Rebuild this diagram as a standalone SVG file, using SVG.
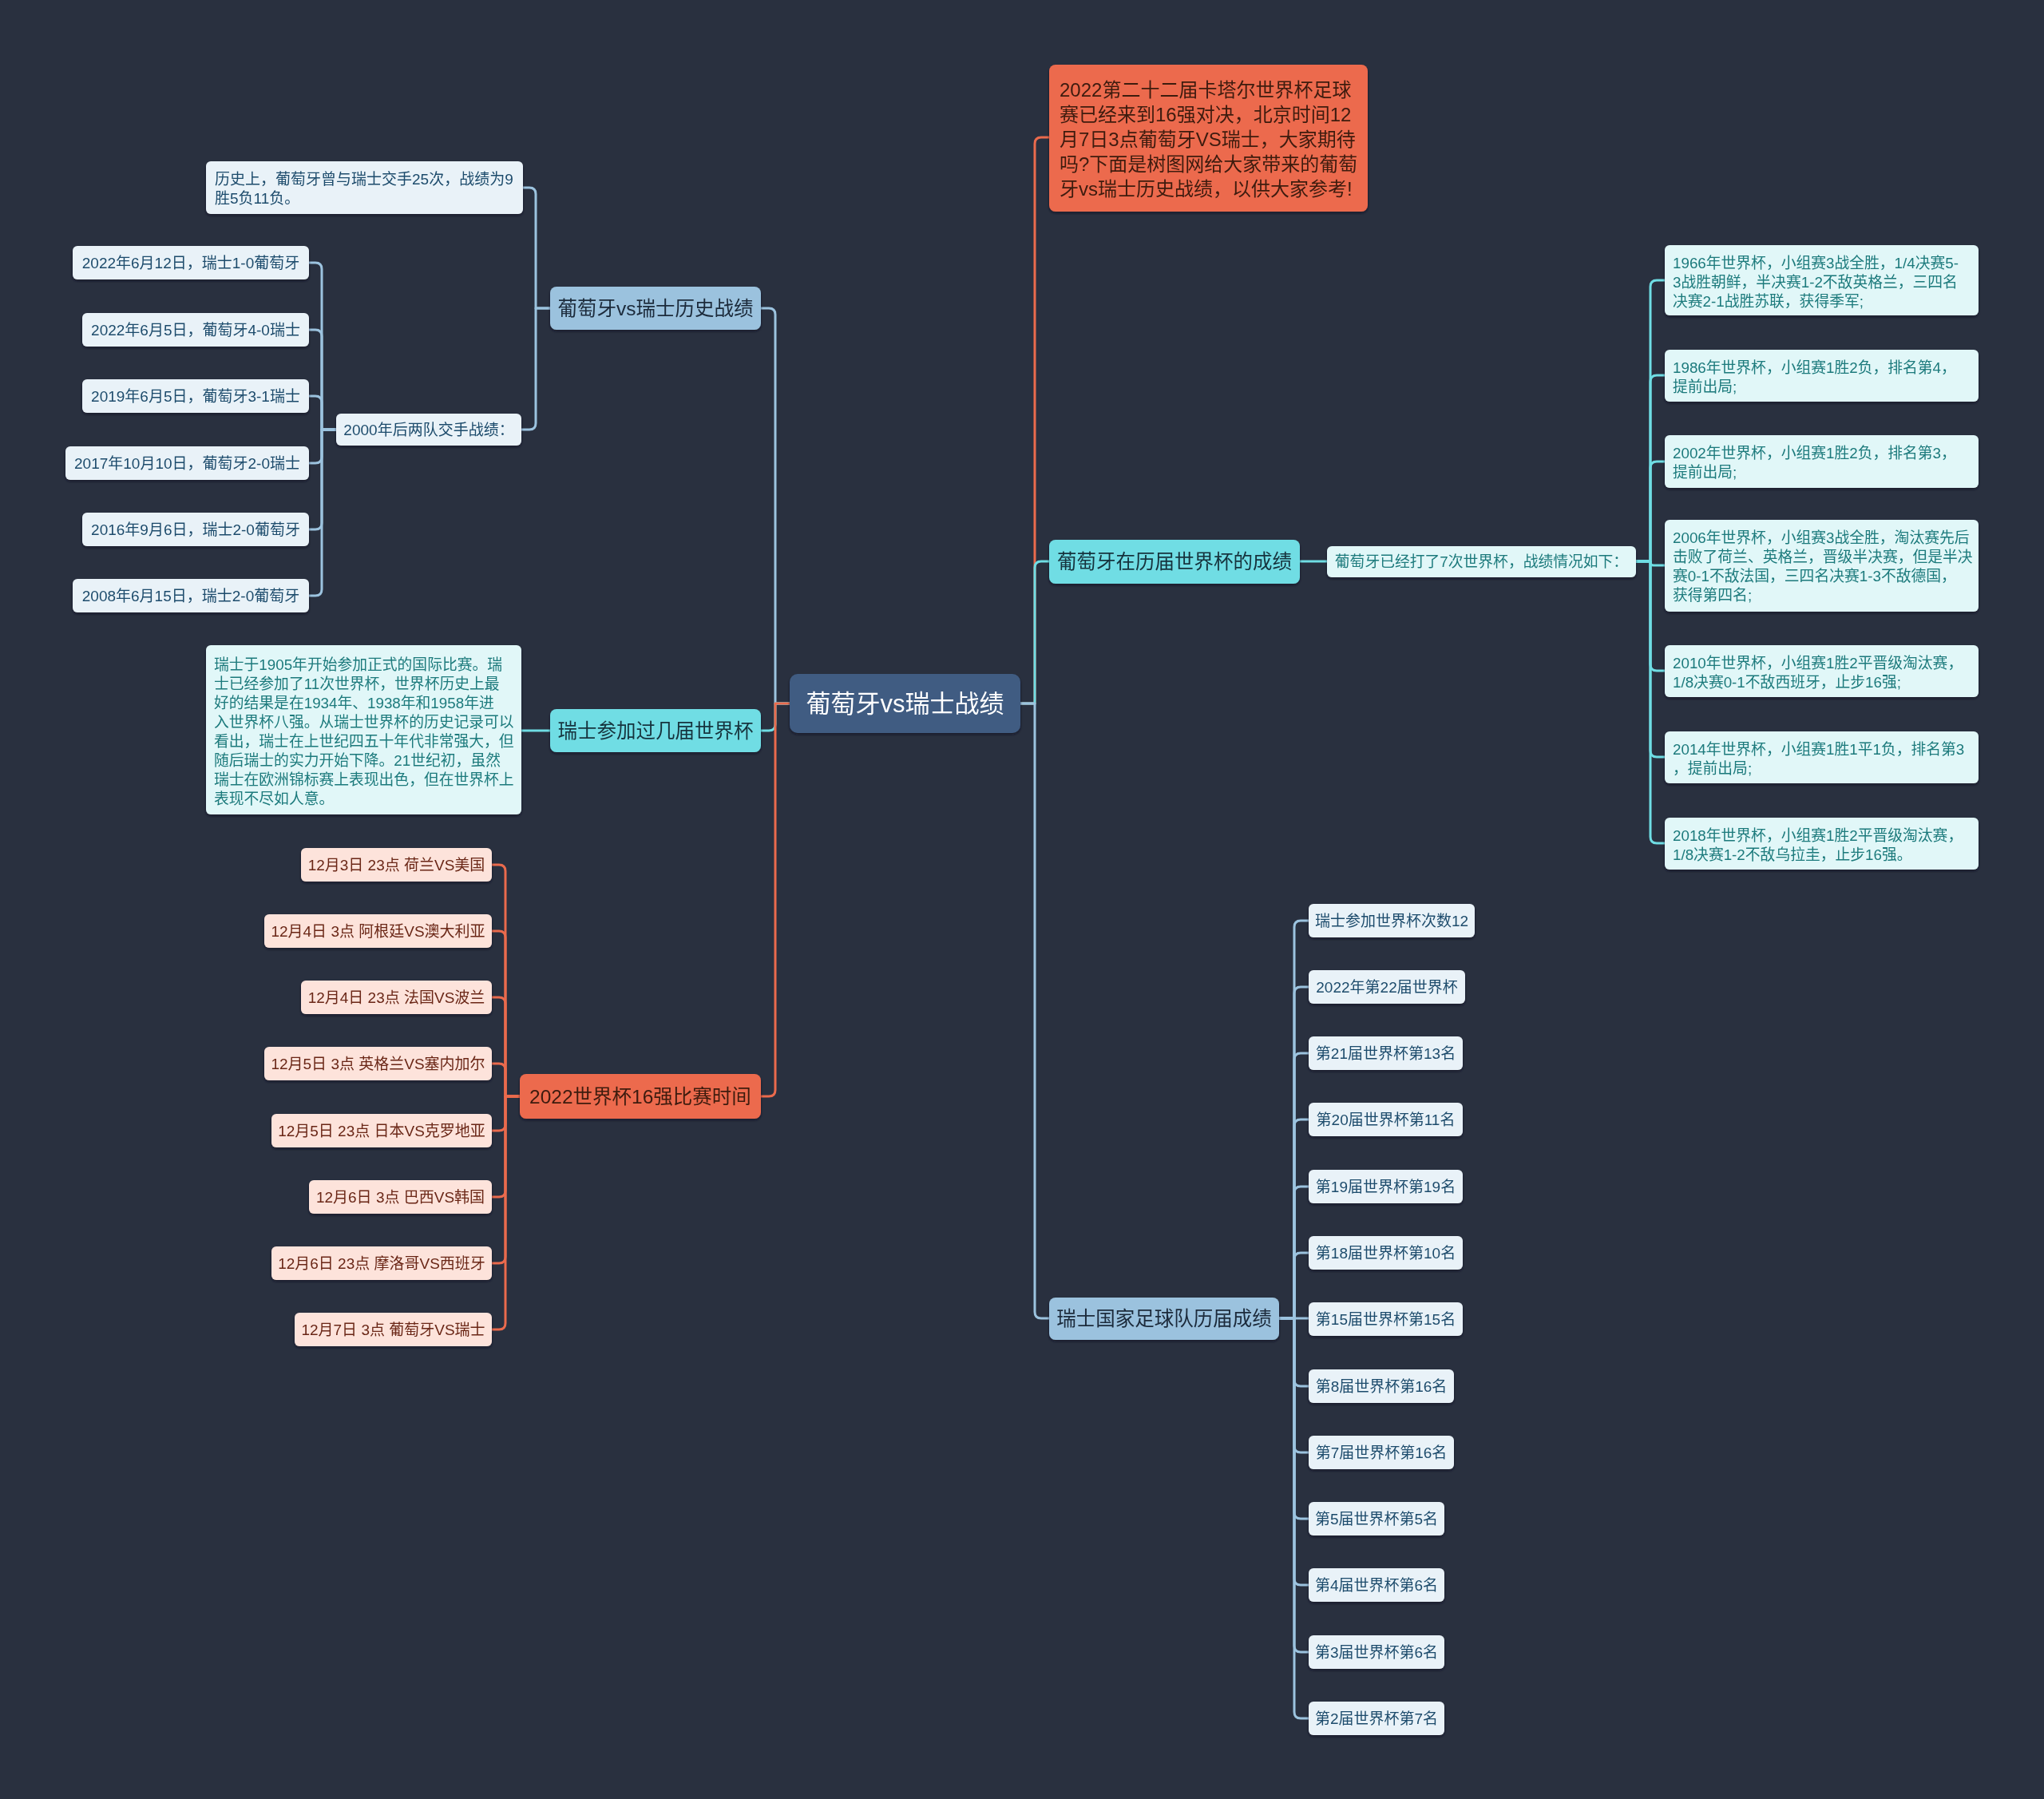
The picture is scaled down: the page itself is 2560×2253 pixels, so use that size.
<svg xmlns="http://www.w3.org/2000/svg" width="2560" height="2253" viewBox="0 0 2560 2253">
<defs>
<filter id="sh" x="-10%" y="-20%" width="120%" height="150%">
<feDropShadow dx="0" dy="2" stdDeviation="1.5" flood-color="#111722" flood-opacity="0.7"/>
</filter>
<style>
text{font-family:"Liberation Sans","Noto Sans CJK SC",sans-serif;dominant-baseline:central}
.c{stroke-width:3;fill:none;stroke-linejoin:round}
.cb{stroke:#9cc3df}.cc{stroke:#6fdde4}.co{stroke:#ea6a4d}
.n{filter:url(#sh)}
.fb{fill:#e9f2f8}.fc{fill:#e1f7f8}.fo{fill:#fde3db}
.tb{fill:#1e4c6c;font-size:19px}.tc{fill:#1c7a7c;font-size:18.8px}.to{fill:#6a2717;font-size:19px}
.B{font-size:24.5px}
.m{text-anchor:middle}
</style>
</defs>
<rect width="2560" height="2253" fill="#29303f"/>

<g id="connectors">
<path class="c co" d="M1278 881 H1296 V180 Q1296 172 1304 172 H1314"/>
<path class="c cc" d="M1278 881 H1296 V711 Q1296 703 1304 703 H1314"/>
<path class="c cb" d="M1278 881 H1296 V1643 Q1296 1651 1304 1651 H1314"/>
<path class="c cb" d="M989 881 H971 V394 Q971 386 963 386 H953"/>
<path class="c cc" d="M989 881 H971 V907 Q971 915 963 915 H953"/>
<path class="c co" d="M989 881 H971 V1365 Q971 1373 963 1373 H953"/>
<path class="c cb" d="M689 386 H671 V243 Q671 235 663 235 H655"/>
<path class="c cb" d="M689 386 H671 V530 Q671 538 663 538 H653"/>
<path class="c cb" d="M421 538 H403 V337 Q403 329 395 329 H387"/>
<path class="c cb" d="M421 538 H403 V421 Q403 413 395 413 H387"/>
<path class="c cb" d="M421 538 H403 V504 Q403 496 395 496 H387"/>
<path class="c cb" d="M421 538 H403 V572 Q403 580 395 580 H387"/>
<path class="c cb" d="M421 538 H403 V655 Q403 663 395 663 H387"/>
<path class="c cb" d="M421 538 H403 V738 Q403 746 395 746 H387"/>
<path class="c cc" d="M689 915 H653"/>
<path class="c co" d="M651 1373 H633 V1091 Q633 1083 625 1083 H616"/>
<path class="c co" d="M651 1373 H633 V1174 Q633 1166 625 1166 H616"/>
<path class="c co" d="M651 1373 H633 V1257 Q633 1249 625 1249 H616"/>
<path class="c co" d="M651 1373 H633 V1340 Q633 1332 625 1332 H616"/>
<path class="c co" d="M651 1373 H633 V1408 Q633 1416 625 1416 H616"/>
<path class="c co" d="M651 1373 H633 V1491 Q633 1499 625 1499 H616"/>
<path class="c co" d="M651 1373 H633 V1574 Q633 1582 625 1582 H616"/>
<path class="c co" d="M651 1373 H633 V1657 Q633 1665 625 1665 H616"/>
<path class="c cc" d="M1628 703 H1662"/>
<path class="c cc" d="M2049 703 H2067 V359 Q2067 351 2075 351 H2085"/>
<path class="c cc" d="M2049 703 H2067 V478 Q2067 470 2075 470 H2085"/>
<path class="c cc" d="M2049 703 H2067 V586 Q2067 578 2075 578 H2085"/>
<path class="c cc" d="M2049 703 H2067 V704 Q2067 708 2071 708 H2085"/>
<path class="c cc" d="M2049 703 H2067 V832 Q2067 840 2075 840 H2085"/>
<path class="c cc" d="M2049 703 H2067 V940 Q2067 948 2075 948 H2085"/>
<path class="c cc" d="M2049 703 H2067 V1048 Q2067 1056 2075 1056 H2085"/>
<path class="c cb" d="M1602 1651 H1621 V1161 Q1621 1153 1629 1153 H1639"/>
<path class="c cb" d="M1602 1651 H1621 V1244 Q1621 1236 1629 1236 H1639"/>
<path class="c cb" d="M1602 1651 H1621 V1327 Q1621 1319 1629 1319 H1639"/>
<path class="c cb" d="M1602 1651 H1621 V1410 Q1621 1402 1629 1402 H1639"/>
<path class="c cb" d="M1602 1651 H1621 V1494 Q1621 1486 1629 1486 H1639"/>
<path class="c cb" d="M1602 1651 H1621 V1577 Q1621 1569 1629 1569 H1639"/>
<path class="c cb" d="M1602 1651 H1639"/>
<path class="c cb" d="M1602 1651 H1621 V1728 Q1621 1736 1629 1736 H1639"/>
<path class="c cb" d="M1602 1651 H1621 V1811 Q1621 1819 1629 1819 H1639"/>
<path class="c cb" d="M1602 1651 H1621 V1894 Q1621 1902 1629 1902 H1639"/>
<path class="c cb" d="M1602 1651 H1621 V1977 Q1621 1985 1629 1985 H1639"/>
<path class="c cb" d="M1602 1651 H1621 V2061 Q1621 2069 1629 2069 H1639"/>
<path class="c cb" d="M1602 1651 H1621 V2144 Q1621 2152 1629 2152 H1639"/>
</g>

<g id="center" class="n"><rect x="989" y="844" width="289" height="74" rx="10" fill="#3f5b82"/><text x="1133.5" y="881" class="m" font-size="31" fill="#ffffff">葡萄牙vs瑞士战绩</text></g>

<g id="intro" class="n"><rect x="1314" y="81" width="399" height="184" rx="8" fill="#ec6a4d"/>
<text x="1327" font-size="24" fill="#3d1a10"><tspan x="1327" y="112">2022第二十二届卡塔尔世界杯足球</tspan><tspan x="1327" y="143">赛已经来到16强对决，北京时间12</tspan><tspan x="1327" y="174">月7日3点葡萄牙VS瑞士，大家期待</tspan><tspan x="1327" y="205">吗?下面是树图网给大家带来的葡萄</tspan><tspan x="1327" y="236">牙vs瑞士历史战绩，以供大家参考!</tspan></text></g>

<g id="pt-wc" class="n"><rect x="1314" y="676" width="314" height="55" rx="8" fill="#6fdde4"/><text x="1471" y="703" class="m B" fill="#17333c">葡萄牙在历届世界杯的成绩</text></g>
<g id="pt-wc-sum" class="n"><rect x="1662" y="684" width="387" height="39" rx="6" class="fc"/><text x="1855.5" y="703" class="m tc">葡萄牙已经打了7次世界杯，战绩情况如下：</text></g>

<g id="w1966" class="n"><rect x="2085" y="307" width="393" height="88" rx="6" class="fc"/><text class="tc"><tspan x="2095" y="329">1966年世界杯，小组赛3战全胜，1/4决赛5-</tspan><tspan x="2095" y="353">3战胜朝鲜，半决赛1-2不敌英格兰，三四名</tspan><tspan x="2095" y="377">决赛2-1战胜苏联，获得季军;</tspan></text></g>
<g id="w1986" class="n"><rect x="2085" y="438" width="393" height="65" rx="6" class="fc"/><text class="tc"><tspan x="2095" y="460">1986年世界杯，小组赛1胜2负，排名第4，</tspan><tspan x="2095" y="484">提前出局;</tspan></text></g>
<g id="w2002" class="n"><rect x="2085" y="545" width="393" height="66" rx="6" class="fc"/><text class="tc"><tspan x="2095" y="567">2002年世界杯，小组赛1胜2负，排名第3，</tspan><tspan x="2095" y="591">提前出局;</tspan></text></g>
<g id="w2006" class="n"><rect x="2085" y="651" width="393" height="115" rx="6" class="fc"/><text class="tc"><tspan x="2095" y="673">2006年世界杯，小组赛3战全胜，淘汰赛先后</tspan><tspan x="2095" y="697">击败了荷兰、英格兰，晋级半决赛，但是半决</tspan><tspan x="2095" y="721">赛0-1不敌法国，三四名决赛1-3不敌德国，</tspan><tspan x="2095" y="745">获得第四名;</tspan></text></g>
<g id="w2010" class="n"><rect x="2085" y="808" width="393" height="65" rx="6" class="fc"/><text class="tc"><tspan x="2095" y="830">2010年世界杯，小组赛1胜2平晋级淘汰赛，</tspan><tspan x="2095" y="854">1/8决赛0-1不敌西班牙，止步16强;</tspan></text></g>
<g id="w2014" class="n"><rect x="2085" y="916" width="393" height="65" rx="6" class="fc"/><text class="tc"><tspan x="2095" y="938">2014年世界杯，小组赛1胜1平1负，排名第3</tspan><tspan x="2095" y="962">，提前出局;</tspan></text></g>
<g id="w2018" class="n"><rect x="2085" y="1024" width="393" height="65" rx="6" class="fc"/><text class="tc"><tspan x="2095" y="1046">2018年世界杯，小组赛1胜2平晋级淘汰赛，</tspan><tspan x="2095" y="1070">1/8决赛1-2不敌乌拉圭，止步16强。</tspan></text></g>

<g id="ch-hist" class="n"><rect x="1314" y="1625" width="288" height="53" rx="8" fill="#9bc2de"/><text x="1458" y="1651" class="m B" fill="#1b2a3a">瑞士国家足球队历届成绩</text></g>
<g id="ch1" class="n"><rect x="1639" y="1132" width="208" height="42" rx="6" class="fb"/><text x="1743" y="1153" class="m tb">瑞士参加世界杯次数12</text></g>
<g id="ch2" class="n"><rect x="1639" y="1215" width="196" height="42" rx="6" class="fb"/><text x="1737" y="1236" class="m tb">2022年第22届世界杯</text></g>
<g id="ch3" class="n"><rect x="1639" y="1298" width="193" height="42" rx="6" class="fb"/><text x="1735.5" y="1319" class="m tb">第21届世界杯第13名</text></g>
<g id="ch4" class="n"><rect x="1639" y="1381" width="193" height="42" rx="6" class="fb"/><text x="1735.5" y="1402" class="m tb">第20届世界杯第11名</text></g>
<g id="ch5" class="n"><rect x="1639" y="1465" width="193" height="42" rx="6" class="fb"/><text x="1735.5" y="1486" class="m tb">第19届世界杯第19名</text></g>
<g id="ch6" class="n"><rect x="1639" y="1548" width="193" height="42" rx="6" class="fb"/><text x="1735.5" y="1569" class="m tb">第18届世界杯第10名</text></g>
<g id="ch7" class="n"><rect x="1639" y="1631" width="193" height="42" rx="6" class="fb"/><text x="1735.5" y="1652" class="m tb">第15届世界杯第15名</text></g>
<g id="ch8" class="n"><rect x="1639" y="1715" width="182" height="42" rx="6" class="fb"/><text x="1730" y="1736" class="m tb">第8届世界杯第16名</text></g>
<g id="ch9" class="n"><rect x="1639" y="1798" width="182" height="42" rx="6" class="fb"/><text x="1730" y="1819" class="m tb">第7届世界杯第16名</text></g>
<g id="ch10" class="n"><rect x="1639" y="1881" width="170" height="42" rx="6" class="fb"/><text x="1724" y="1902" class="m tb">第5届世界杯第5名</text></g>
<g id="ch11" class="n"><rect x="1639" y="1964" width="170" height="42" rx="6" class="fb"/><text x="1724" y="1985" class="m tb">第4届世界杯第6名</text></g>
<g id="ch12" class="n"><rect x="1639" y="2048" width="170" height="42" rx="6" class="fb"/><text x="1724" y="2069" class="m tb">第3届世界杯第6名</text></g>
<g id="ch13" class="n"><rect x="1639" y="2131" width="170" height="42" rx="6" class="fb"/><text x="1724" y="2152" class="m tb">第2届世界杯第7名</text></g>

<g id="vs-hist" class="n"><rect x="689" y="359" width="264" height="54" rx="8" fill="#9bc2de"/><text x="821" y="386" class="m B" fill="#1b2a3a">葡萄牙vs瑞士历史战绩</text></g>
<g id="vs-total" class="n"><rect x="258" y="202" width="397" height="66" rx="6" class="fb"/><text class="tb"><tspan x="269" y="224">历史上，葡萄牙曾与瑞士交手25次，战绩为9</tspan><tspan x="269" y="248">胜5负11负。</tspan></text></g>
<g id="vs-2000" class="n"><rect x="421" y="518" width="232" height="40" rx="6" class="fb"/><text x="537" y="538" class="m tb">2000年后两队交手战绩：</text></g>
<g id="m1" class="n"><rect x="91" y="308" width="296" height="42" rx="6" class="fb"/><text x="239" y="329" class="m tb">2022年6月12日，瑞士1-0葡萄牙</text></g>
<g id="m2" class="n"><rect x="103" y="392" width="284" height="42" rx="6" class="fb"/><text x="245" y="413" class="m tb">2022年6月5日，葡萄牙4-0瑞士</text></g>
<g id="m3" class="n"><rect x="103" y="475" width="284" height="42" rx="6" class="fb"/><text x="245" y="496" class="m tb">2019年6月5日，葡萄牙3-1瑞士</text></g>
<g id="m4" class="n"><rect x="82" y="559" width="305" height="42" rx="6" class="fb"/><text x="234.5" y="580" class="m tb">2017年10月10日，葡萄牙2-0瑞士</text></g>
<g id="m5" class="n"><rect x="103" y="642" width="284" height="42" rx="6" class="fb"/><text x="245" y="663" class="m tb">2016年9月6日，瑞士2-0葡萄牙</text></g>
<g id="m6" class="n"><rect x="91" y="725" width="296" height="42" rx="6" class="fb"/><text x="239" y="746" class="m tb">2008年6月15日，瑞士2-0葡萄牙</text></g>

<g id="sw-wc" class="n"><rect x="689" y="888" width="264" height="54" rx="8" fill="#6fdde4"/><text x="821" y="915" class="m B" fill="#17333c">瑞士参加过几届世界杯</text></g>
<g id="sw-wc-text" class="n"><rect x="258" y="808" width="395" height="212" rx="6" class="fc"/><text class="tc"><tspan x="268" y="832">瑞士于1905年开始参加正式的国际比赛。瑞</tspan><tspan x="268" y="856">士已经参加了11次世界杯，世界杯历史上最</tspan><tspan x="268" y="880">好的结果是在1934年、1938年和1958年进</tspan><tspan x="268" y="904">入世界杯八强。从瑞士世界杯的历史记录可以</tspan><tspan x="268" y="928">看出，瑞士在上世纪四五十年代非常强大，但</tspan><tspan x="268" y="952">随后瑞士的实力开始下降。21世纪初，虽然</tspan><tspan x="268" y="976">瑞士在欧洲锦标赛上表现出色，但在世界杯上</tspan><tspan x="268" y="1000">表现不尽如人意。</tspan></text></g>

<g id="r16" class="n"><rect x="651" y="1345" width="302" height="56" rx="8" fill="#ec6a4d"/><text x="802" y="1373" class="m B" fill="#3d1a10">2022世界杯16强比赛时间</text></g>
<g id="g1" class="n"><rect x="377" y="1062" width="239" height="42" rx="6" class="fo"/><text x="496.5" y="1083" class="m to">12月3日 23点 荷兰VS美国</text></g>
<g id="g2" class="n"><rect x="331" y="1145" width="285" height="42" rx="6" class="fo"/><text x="473.5" y="1166" class="m to">12月4日 3点 阿根廷VS澳大利亚</text></g>
<g id="g3" class="n"><rect x="377" y="1228" width="239" height="42" rx="6" class="fo"/><text x="496.5" y="1249" class="m to">12月4日 23点 法国VS波兰</text></g>
<g id="g4" class="n"><rect x="331" y="1311" width="285" height="42" rx="6" class="fo"/><text x="473.5" y="1332" class="m to">12月5日 3点 英格兰VS塞内加尔</text></g>
<g id="g5" class="n"><rect x="340" y="1395" width="276" height="42" rx="6" class="fo"/><text x="478" y="1416" class="m to">12月5日 23点 日本VS克罗地亚</text></g>
<g id="g6" class="n"><rect x="387" y="1478" width="229" height="42" rx="6" class="fo"/><text x="501.5" y="1499" class="m to">12月6日 3点 巴西VS韩国</text></g>
<g id="g7" class="n"><rect x="340" y="1561" width="276" height="42" rx="6" class="fo"/><text x="478" y="1582" class="m to">12月6日 23点 摩洛哥VS西班牙</text></g>
<g id="g8" class="n"><rect x="369" y="1644" width="247" height="42" rx="6" class="fo"/><text x="492.5" y="1665" class="m to">12月7日 3点 葡萄牙VS瑞士</text></g>
</svg>
